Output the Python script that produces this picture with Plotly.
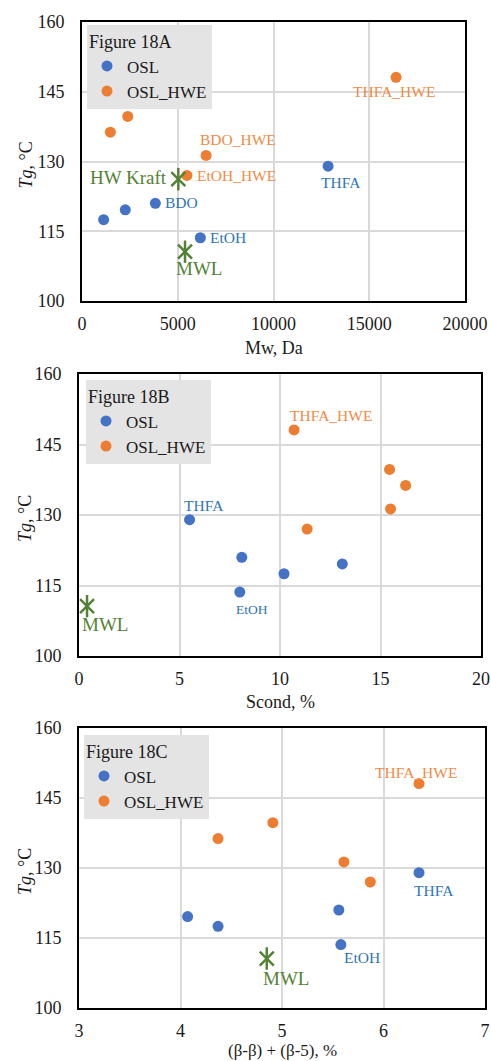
import plotly.graph_objects as go

# ---- data ----
samples_osl = ["OSL-1", "OSL-2", "BDO", "EtOH", "THFA"]
samples_hwe = ["OSL_HWE-1", "OSL_HWE-2", "BDO_HWE", "EtOH_HWE", "THFA_HWE"]

tg_osl = [117.5, 119.6, 121.0, 113.6, 129.0]
tg_hwe = [136.3, 139.7, 131.3, 127.0, 148.1]

mw_osl = [1130, 2260, 3830, 6180, 12850]
mw_hwe = [1480, 2390, 6480, 5480, 16400]

scond_osl = [10.2, 13.1, 8.1, 8.0, 5.5]
scond_hwe = [16.25, 15.45, 15.5, 11.35, 10.7]

bb_osl = [4.37, 4.07, 5.56, 5.58, 6.35]
bb_hwe = [4.37, 4.91, 5.61, 5.87, 6.35]

# reference lignins
ref_names = ["HW Kraft", "MWL"]
ref_tg = [126.2, 110.6]
ref_mw = [5030, 5380]
mwl_scond = 0.4
mwl_bb = 4.85

BLUE = "#4472C4"
ORANGE = "#ED7D31"
GREEN = "#548235"
BLUE_TXT = "#2E75B6"
ORANGE_TXT = "#F08A45"
FONT = "Liberation Serif"
TXT = "#1a1a1a"
W, H = 491, 1061


def f(size, color=TXT):
    return dict(family=FONT, size=size, color=color)


fig = go.Figure()

panels = [
    dict(ax="", legend="legend", title="Figure 18A", xdom=[82, 465], ydom=[22, 301],
         xr=[0, 20000], dx=5000, xlab="Mw, Da", xlab_y=348, xlab_size=18, standoff=5,
         xo=mw_osl, xh=mw_hwe, lx=87, ly=25),
    dict(ax="2", legend="legend2", title="Figure 18B", xdom=[79, 481], ydom=[374, 656],
         xr=[0, 20], dx=5, xlab="Scond, %", xlab_y=702, xlab_size=18, standoff=5,
         xo=scond_osl, xh=scond_hwe, lx=86, ly=380),
    dict(ax="3", legend="legend3", title="Figure 18C", xdom=[79, 485], ydom=[728, 1008],
         xr=[3, 7], dx=1, xlab="(β-β) + (β-5), %", xlab_y=1050, xlab_size=17, standoff=5,
         xo=bb_osl, xh=bb_hwe, lx=84, ly=735),
]

layout = dict(width=W, height=H, margin=dict(l=0, r=0, t=0, b=0, autoexpand=False),
              paper_bgcolor="white", plot_bgcolor="white",
              font=f(18), annotations=[], showlegend=True)

for p in panels:
    xa, ya = "x" + p["ax"], "y" + p["ax"]
    fig.add_trace(go.Scatter(x=p["xo"], y=tg_osl, mode="markers", name="OSL",
                             text=samples_osl, xaxis=xa, yaxis=ya, legend=p["legend"],
                             marker=dict(color=BLUE, size=11)))
    fig.add_trace(go.Scatter(x=p["xh"], y=tg_hwe, mode="markers", name="OSL_HWE",
                             text=samples_hwe, xaxis=xa, yaxis=ya, legend=p["legend"],
                             marker=dict(color=ORANGE, size=11)))
    layout["xaxis" + p["ax"]] = dict(
        domain=[p["xdom"][0] / W, p["xdom"][1] / W], range=p["xr"], tick0=p["xr"][0],
        dtick=p["dx"], tickformat="d", anchor=ya, showgrid=True, gridcolor="#d9d9d9",
        gridwidth=1.5, zeroline=False, showline=True, linecolor="black", linewidth=2,
        mirror=True, ticks="", ticklabelstandoff=p["standoff"], tickfont=f(18),
        automargin=False)
    layout["yaxis" + p["ax"]] = dict(
        domain=[1 - p["ydom"][1] / H, 1 - p["ydom"][0] / H], range=[100, 160], tick0=100,
        dtick=15, anchor=xa, showgrid=True, gridcolor="#d9d9d9", gridwidth=1.5,
        zeroline=False, showline=True, linecolor="black", linewidth=2, mirror=True,
        ticks="", ticklabelstandoff=12, tickfont=f(18), automargin=False)
    layout[p["legend"]] = dict(x=p["lx"] / W, y=1 - p["ly"] / H, xanchor="left",
                               yanchor="top", bgcolor="#e4e4e4", borderwidth=0,
                               title=dict(text=p["title"], font=f(18)),
                               font=f(17), itemwidth=30, tracegroupgap=0)
    # axis titles
    layout["annotations"].append(dict(text=p["xlab"], xref="paper", yref="paper",
                                      x=(p["xdom"][0] + p["xdom"][1]) / 2 / W,
                                      y=1 - p["xlab_y"] / H, showarrow=False,
                                      font=f(p["xlab_size"]), xanchor="center",
                                      yanchor="middle"))
    layout["annotations"].append(dict(text="<i>Tg</i>, °C", xref="paper", yref="paper",
                                      x=25 / W, y=1 - ((p["ydom"][0] + p["ydom"][1]) / 2 + 4) / H,
                                      textangle=-90, showarrow=False, font=f(18),
                                      xanchor="center", yanchor="middle"))


def add_star(x, y, ax):
    for sym, size in [("x-thin-open", 14), ("line-ns-open", 16)]:
        fig.add_trace(go.Scatter(x=x, y=y, mode="markers", xaxis="x" + ax, yaxis="y" + ax,
                                 showlegend=False, hoverinfo="skip",
                                 marker=dict(symbol=sym, size=size, color=GREEN,
                                             line=dict(color=GREEN, width=2.5))))


add_star(ref_mw, ref_tg, "")
add_star([mwl_scond], [ref_tg[1]], "2")
add_star([mwl_bb], [ref_tg[1]], "3")


def label(text, x, y, ax, color, size, dx, dy, anchor="center"):
    layout["annotations"].append(dict(text=text, x=x, y=y, xref="x" + ax, yref="y" + ax,
                                      showarrow=False, xshift=dx, yshift=dy,
                                      xanchor=anchor, yanchor="middle",
                                      font=f(size, color)))


# panel A labels
label("BDO", mw_osl[2], tg_osl[2], "", BLUE_TXT, 15.5, 8, 1, "left")
label("EtOH", mw_osl[3], tg_osl[3], "", BLUE_TXT, 15.5, 8, 0, "left")
label("THFA", mw_osl[4], tg_osl[4], "", BLUE_TXT, 15.5, 13, -16)
label("BDO_HWE", mw_hwe[2], tg_hwe[2], "", ORANGE_TXT, 15.5, 32, 16)
label("EtOH_HWE", mw_hwe[3], tg_hwe[3], "", ORANGE_TXT, 15.5, 8, 0, "left")
label("THFA_HWE", mw_hwe[4], tg_hwe[4], "", ORANGE_TXT, 15.5, -2, -14)
label(ref_names[0], ref_mw[0], ref_tg[0], "", GREEN, 19, -9, 2, "right")
label(ref_names[1], ref_mw[1], ref_tg[1], "", GREEN, 19, 14, -17)

# panel B labels
label("THFA", scond_osl[4], tg_osl[4], "2", BLUE_TXT, 15.5, 14, 14)
label("EtOH", scond_osl[3], tg_osl[3], "2", BLUE_TXT, 13.5, 12, -17)
label("THFA_HWE", scond_hwe[4], tg_hwe[4], "2", ORANGE_TXT, 15.5, 37, 14)
label(ref_names[1], mwl_scond, ref_tg[1], "2", GREEN, 19, 18, -18)

# panel C labels
label("THFA_HWE", bb_hwe[4], tg_hwe[4], "3", ORANGE_TXT, 15.5, -3, 11)
label("THFA", bb_osl[4], tg_osl[4], "3", BLUE_TXT, 15.5, 15, -18)
label("EtOH", bb_osl[3], tg_osl[3], "3", BLUE_TXT, 15.5, 21, -13)
label(ref_names[1], mwl_bb, ref_tg[1], "3", GREEN, 19, 19, -20)

fig.update_layout(**layout)
fig.write_html("out.html")
